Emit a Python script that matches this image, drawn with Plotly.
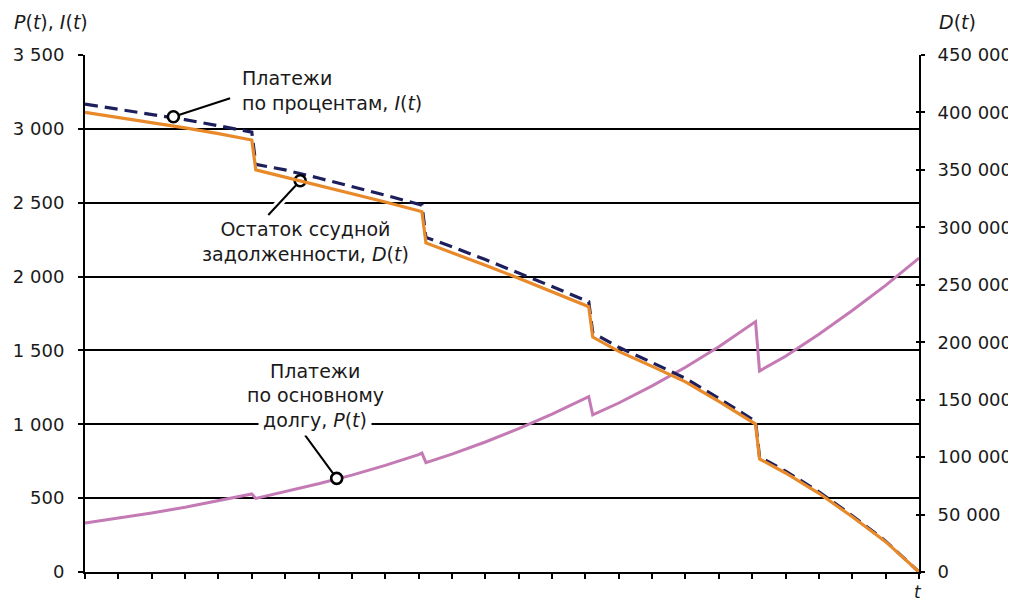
import plotly.graph_objects as go

# ---- data ----
t = [0, 1, 2, 3, 4, 5, 5.12, 6, 7, 8, 9, 10, 10.1, 10.22, 11, 12, 13, 14, 15, 15.1,
     15.22, 16, 17, 18, 19, 20, 20.1, 20.22, 21, 22, 23, 24, 25]
debt_D = [400000, 395700, 391200, 386600, 381500, 376000, 350000, 343800, 336800, 329600,
          322100, 314400, 313600, 286400, 278000, 267000, 255700, 244100, 232200, 230900,
          204500, 192000, 179000, 165500, 148500, 130600, 128800, 98400, 86200, 68500,
          48100, 26400, 0]
interest_I = [3168, 3134, 3098, 3062, 3021, 2978, 2760, 2722, 2667, 2610, 2551, 2490, 2484,
              2265, 2202, 2115, 2025, 1933, 1839, 1830, 1620, 1521, 1418, 1311, 1176, 1034,
              1020, 779, 683, 543, 381, 209, 0]
principal_P = [332, 364, 400, 438, 481, 528, 498, 542, 597, 656, 722, 795, 805, 740, 798,
               880, 970, 1069, 1178, 1187, 1063, 1144, 1260, 1386, 1525, 1678, 1695, 1361,
               1460, 1610, 1770, 1940, 2125]

left_tickvals = [0, 500, 1000, 1500, 2000, 2500, 3000, 3500]
left_ticktext = ["0", "500", "1 000", "1 500", "2 000", "2 500", "3 000", "3 500"]
right_tickvals = [0, 50000, 100000, 150000, 200000, 250000, 300000, 350000, 400000, 450000]
right_ticktext = ["0", "50 000", "100 000", "150 000", "200 000", "250 000",
                  "300 000", "350 000", "400 000", "450 000"]

# callouts: anchor point on the curve and the end of the leader line
callout_t = [2.65, 6.45, 7.545]
callout_v = [3082, 2649, 634]
leader_t = [4.35, 5.495, 6.595]
leader_v = [3207, 2417, 927]

FONT = "DejaVu Sans"
ORANGE = "#E8892A"
NAVY = "#1C1F5C"
PINK = "#C47AB4"
TXT = "#1a1a1a"

fig = go.Figure()

fig.add_trace(go.Scatter(x=t, y=principal_P, mode="lines",
                         line=dict(color=PINK, width=3), yaxis="y", hoverinfo="skip"))
fig.add_trace(go.Scatter(x=t, y=debt_D, mode="lines",
                         line=dict(color=ORANGE, width=3.2), yaxis="y2", hoverinfo="skip"))
fig.add_trace(go.Scatter(x=t, y=debt_D, mode="lines", opacity=0,
                         line=dict(color=ORANGE, width=0.1), yaxis="y3", hoverinfo="skip"))
fig.add_trace(go.Scatter(x=t, y=interest_I, mode="lines",
                         line=dict(color=NAVY, width=3.2, dash="13px,7px"), yaxis="y",
                         hoverinfo="skip"))

# white halo where the second leader crosses the grid line
a0, a1 = 0.2, 0.55
hx = [leader_t[1] + a * (callout_t[1] - leader_t[1]) for a in (a0, a1)]
hy = [leader_v[1] + a * (callout_v[1] - leader_v[1]) for a in (a0, a1)]
fig.add_trace(go.Scatter(x=hx, y=hy, mode="lines", line=dict(color="white", width=8),
                         hoverinfo="skip"))

lx, ly = [], []
for i in range(3):
    lx += [leader_t[i], callout_t[i], None]
    ly += [leader_v[i], callout_v[i], None]
fig.add_trace(go.Scatter(x=lx, y=ly, mode="lines", line=dict(color="black", width=2),
                         hoverinfo="skip"))
fig.add_trace(go.Scatter(x=callout_t, y=callout_v, mode="markers",
                         marker=dict(symbol="circle", size=11, color="white",
                                     line=dict(color="black", width=2.6)),
                         hoverinfo="skip"))

ann_font = dict(family=FONT, size=19, color=TXT)
annotations = [
    dict(x=4.646, y=3260, xref="x", yref="y", xanchor="left", yanchor="middle", align="left",
         text="Платежи<br>по процентам, <i>I</i>(<i>t</i>)", showarrow=False, font=ann_font),
    dict(x=6.595, y=2237, xref="x", yref="y", xanchor="center", yanchor="middle",
         align="center", text="Остаток ссудной<br>задолженности, <i>D</i>(<i>t</i>)",
         showarrow=False, font=ann_font),
    dict(x=6.895, y=1361, xref="x", yref="y", xanchor="center", yanchor="middle",
         text="Платежи", showarrow=False, font=ann_font),
    dict(x=6.895, y=1195, xref="x", yref="y", xanchor="center", yanchor="middle",
         text="по основному", showarrow=False, font=ann_font),
    dict(x=6.895, y=1029, xref="x", yref="y", xanchor="center", yanchor="middle",
         text="долгу, <i>P</i>(<i>t</i>)", showarrow=False, font=ann_font,
         bgcolor="white", borderpad=4),
    dict(x=-0.0875, y=1.0638, xref="paper", yref="paper", xanchor="left", yanchor="middle",
         text="<i>P</i>(<i>t</i>), <i>I</i>(<i>t</i>)", showarrow=False, font=ann_font),
    dict(x=1.0216, y=1.0638, xref="paper", yref="paper", xanchor="left", yanchor="middle",
         text="<i>D</i>(<i>t</i>)", showarrow=False, font=ann_font),
    dict(x=0.9988, y=-0.039, xref="paper", yref="paper", xanchor="center", yanchor="middle",
         text="<i>t</i>", showarrow=False, font=dict(family=FONT, size=17, color=TXT)),
]

# the page body has an 8 px margin, so the figure is sized to the visible window
fig.update_layout(
    width=1008, height=597,
    margin=dict(l=77, r=97, t=47, b=33, autoexpand=False),
    paper_bgcolor="white", plot_bgcolor="white",
    showlegend=False,
    font=dict(family=FONT, size=18, color=TXT),
    xaxis=dict(range=[0, 25], tick0=0, dtick=1, ticks="outside", ticklen=5, tickwidth=1.5,
               tickcolor="black", showticklabels=False, showgrid=False, zeroline=False,
               showline=True, linecolor="black", linewidth=2, automargin=False),
    yaxis=dict(range=[0, 3500], tickvals=left_tickvals, ticktext=left_ticktext,
               ticks="outside", ticklen=5, tickwidth=1.5, tickcolor="black",
               ticklabelstandoff=10, automargin=False,
               showgrid=True, gridcolor="black", gridwidth=1.5, zeroline=False,
               showline=True, linecolor="black", linewidth=2),
    yaxis2=dict(range=[0, 450000], tickvals=right_tickvals, ticktext=right_ticktext,
                overlaying="y", side="right", anchor="x",
                ticks="outside", ticklen=4, tickwidth=1.5, tickcolor="black",
                ticklabelstandoff=9, automargin=False,
                showgrid=False, zeroline=False, showline=True, linecolor="black",
                linewidth=2),
    yaxis3=dict(range=[0, 450000], tickvals=right_tickvals, overlaying="y", side="right",
                anchor="x", ticks="inside", ticklen=3, tickwidth=1.5, tickcolor="black",
                showticklabels=False, showgrid=False, zeroline=False, showline=False,
                automargin=False),
    annotations=annotations,
)

fig.write_html("out.html")
